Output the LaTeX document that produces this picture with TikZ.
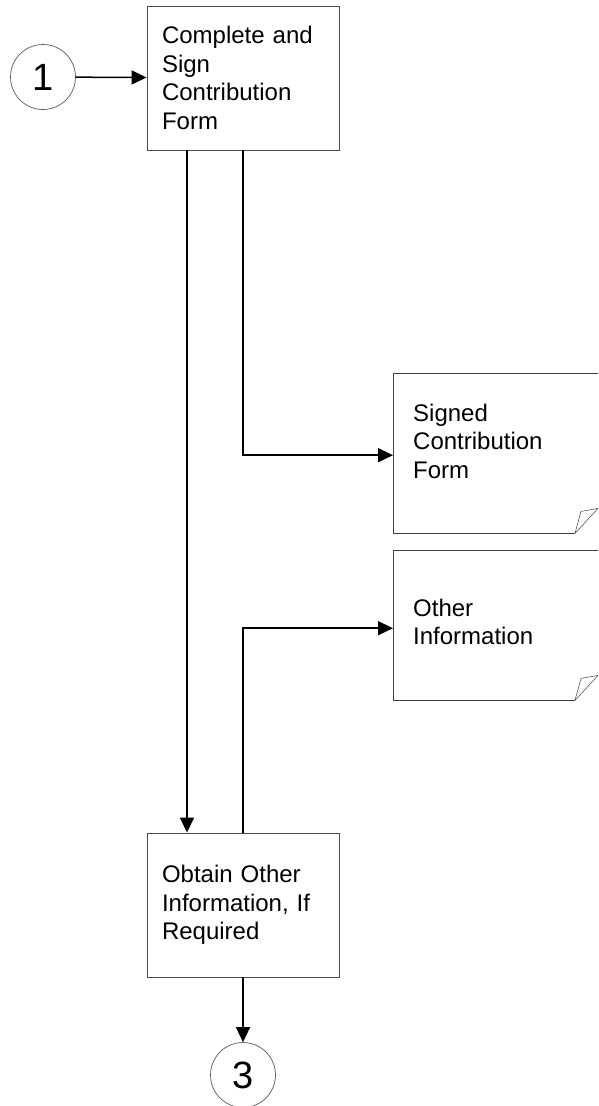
\documentclass[tikz,border=0pt]{standalone}
\usepackage{fontspec}
\setmainfont{Liberation Sans}
\usetikzlibrary{positioning, arrows.meta}

\begin{document}
\begin{tikzpicture}[x=1pt, y=-1pt,
		stepbox/.style={draw=black!70, rectangle, minimum width=192pt, minimum height=144pt,
			text width=162pt, inner sep=15pt, align=left, line width=0.9pt,
			font=\fontsize{24}{28.5}\selectfont},
		docbox/.style={rectangle, anchor=north west, minimum width=205pt, inner sep=0pt},
		doctext/.style={anchor=west, align=left, inner sep=0pt,
			font=\fontsize{24}{28.5}\selectfont},
		docline/.style={draw=black!75, line width=0.9pt},
		foldline/.style={draw=black!75, line width=0.5pt},
		conn/.style={draw=black!65, circle, minimum size=65pt, inner sep=0pt, line width=0.7pt,
			font=\fontsize{38}{40}\selectfont},
		arrow/.style={-{Triangle[length=15pt, width=14pt]}, line width=1.5pt},
		]
		
		%% ── connectors and steps ─────────────────────────────
		\useasboundingbox (0,0) rectangle (598,1106);
		\node[conn]    (c1)       at (43, 77)   {1};
		\node[stepbox] (complete) at (243, 78)  {Complete and\\Sign\\Contribution\\Form};
		\node[stepbox] (obtain)   at (243, 905) {Obtain Other\\Information, If\\Required};
		\node[conn]    (c3)       at (243, 1075) {3};
		
		%% ── documents ────────────────────────────────────────
		\node[docbox, minimum height=160pt] (signed) at (393, 373) {};
		\node[doctext] (signedtxt) at (413, 441) {Signed\\Contribution\\Form};
		\node[docbox, minimum height=150pt] (other) at (393, 550) {};
		\node[doctext] (othertxt) at (413, 622) {Other\\Information};
		
		% outline with folded corner
		\foreach \d in {signed, other} {
			\draw[docline] (\d.north east) -- (\d.north west) -- (\d.south west) -- ++(182,0);
			\draw[foldline] ([xshift=182pt]\d.south west) -- ++(6,-22) -- ++(17,-3)
				([xshift=182pt]\d.south west) -- ++(23,-25);
		}
		
		%% ── flows ────────────────────────────────────────────
		\draw[arrow] (c1) -- (complete);
		\draw[arrow] ([xshift=-56pt]complete.south) -- ([xshift=-56pt]obtain.north);
		\draw[arrow] (complete.south) |- ([yshift=-2pt]signed.west);
		\draw[arrow] (obtain.north) |- ([yshift=-3pt]other.west);
		\draw[arrow] (obtain.south) -- (c3);
		
	\end{tikzpicture}
\end{document}
